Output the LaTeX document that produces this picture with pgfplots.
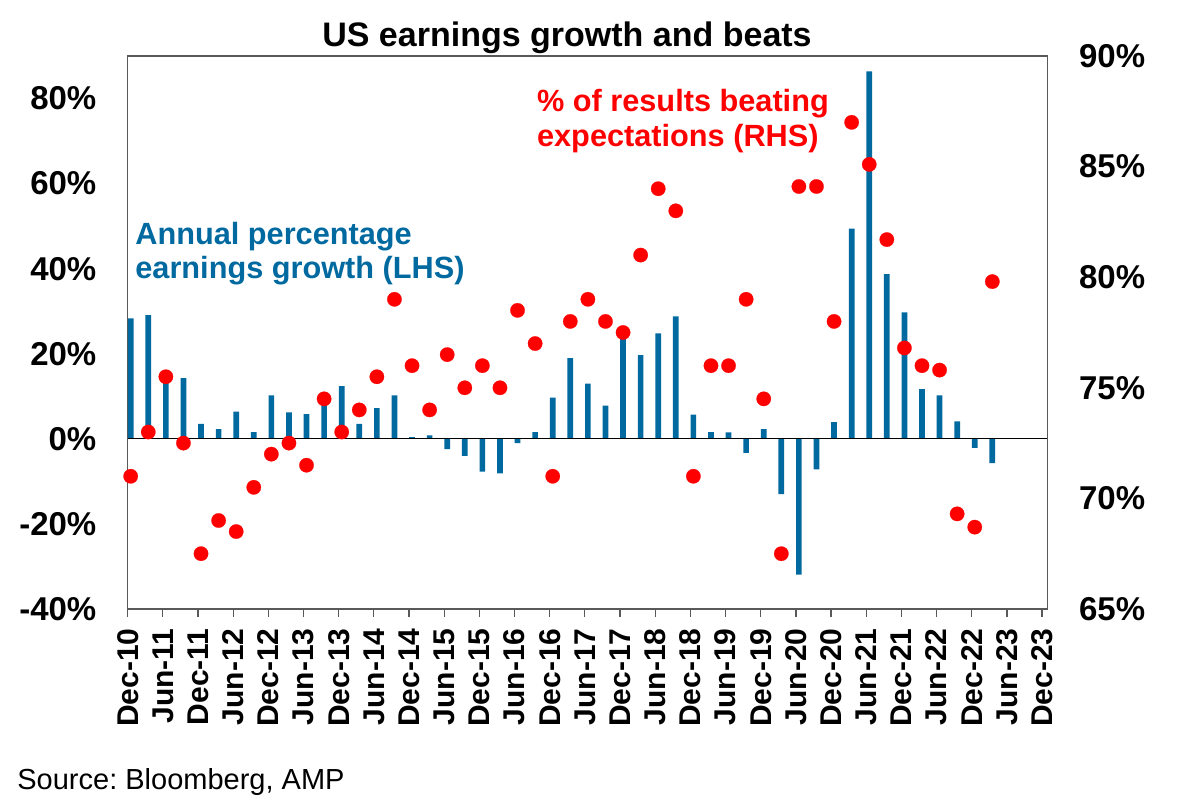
\documentclass[border=0pt]{standalone}
\usepackage{pgfplots}
\pgfplotsset{compat=1.18}
\usepackage{pgfplotstable}
\usepackage{fontspec}
\setmainfont{Liberation Sans}
\definecolor{ampblue}{RGB}{0,105,160}
\definecolor{axgray}{RGB}{89,89,89}

\pgfplotstableread{
q g b
0 28.3 71.0
1 29.1 73.0
2 14.5 75.5
3 14.3 72.5
4 3.5 67.5
5 2.3 69.0
6 6.4 68.5
7 1.6 70.5
8 10.2 72.0
9 6.2 72.5
10 5.8 71.5
11 9.0 74.5
12 12.4 73.0
13 3.5 74.0
14 7.2 75.5
15 10.2 79.0
16 0.4 76.0
17 0.8 74.0
18 -2.4 76.5
19 -4.0 75.0
20 -7.7 76.0
21 -8.1 75.0
22 -1.0 78.5
23 1.6 77.0
24 9.7 71.0
25 19.0 78.0
26 13.0 79.0
27 7.8 78.0
28 24.0 77.5
29 19.7 81.0
30 24.8 84.0
31 28.8 83.0
32 5.7 71.0
33 1.6 76.0
34 1.5 76.0
35 -3.3 79.0
36 2.3 74.5
37 -13.0 67.5
38 -31.9 84.1
39 -7.2 84.1
40 3.9 78.0
41 49.4 87.0
42 86.4 85.1
43 38.7 81.7
44 29.7 76.8
45 11.7 76.0
46 10.2 75.8
47 4.1 69.3
48 -2.1 68.7
49 -5.7 79.8
}\data

\begin{document}
\begin{tikzpicture}
\begin{axis}[
  at={(63.85pt,101.5pt)}, anchor=south west,
  scale only axis, width=460pt, height=276.5pt,
  xmin=0, xmax=52.32, ymin=-40, ymax=90,
  xtick={0,2,...,52},
  xticklabels={Dec-10,Jun-11,Dec-11,Jun-12,Dec-12,Jun-13,Dec-13,Jun-14,Dec-14,Jun-15,Dec-15,Jun-16,Dec-16,Jun-17,Dec-17,Jun-18,Dec-18,Jun-19,Dec-19,Jun-20,Dec-20,Jun-21,Dec-21,Jun-22,Dec-22,Jun-23,Dec-23},
  ytick={-40,-20,0,20,40,60,80},
  yticklabels={-40\%,-20\%,0\%,20\%,40\%,60\%,80\%},
  tick align=outside, major tick length=4pt,
  xtick pos=left, ytick pos=left,
  ytick style={draw=none},
  xtick style={axgray, line width=0.6pt},
  axis line style={axgray, line width=0.6pt},
  xticklabel style={rotate=90, anchor=east, inner sep=0pt, font=\fontsize{15}{15}\selectfont\bfseries},
  yticklabel style={anchor=east, inner sep=0pt, font=\fontsize{16.5}{16.5}\selectfont\bfseries},
  yticklabel shift=11.5pt, xticklabel shift=5.5pt,
]
\addplot[ybar, bar width=2.85pt, fill=ampblue, draw=none] table[x expr=\thisrow{q}+0.17, y=g]{\data};
\addplot[black, line width=0.6pt] coordinates {(0,0) (52.32,0)};
\end{axis}
\begin{axis}[
  at={(63.85pt,101.5pt)}, anchor=south west,
  scale only axis, width=460pt, height=276.5pt,
  xmin=0, xmax=52.32, ymin=65, ymax=90,
  hide x axis, axis y line*=right,
  ytick={65,70,75,80,85,90},
  yticklabels={65\%,70\%,75\%,80\%,85\%,90\%},
  tick align=outside, major tick length=4pt,
  ytick style={draw=none},
  axis line style={axgray, line width=0.6pt},
  yticklabel style={anchor=west, inner sep=0pt, font=\fontsize{16.5}{16.5}\selectfont\bfseries},
  yticklabel shift=11.5pt,
]
\addplot[red, only marks, mark=*, mark size=3.6pt, mark options={fill=red, draw=red, line width=0.1pt}] table[x expr=\thisrow{q}+0.17, y=b]{\data};
\end{axis}
\node[anchor=base, font=\fontsize{17}{17}\selectfont\bfseries] at (283.5pt,382.5pt) {US earnings growth and beats};
\node[anchor=base west, inner sep=0pt, text=ampblue, font=\fontsize{15.35}{15.35}\selectfont\bfseries] at (67.5pt,283.5pt) {Annual percentage};
\node[anchor=base west, inner sep=0pt, text=ampblue, font=\fontsize{15.35}{15.35}\selectfont\bfseries] at (67.5pt,266.5pt) {earnings growth (LHS)};
\node[anchor=base west, inner sep=0pt, text=red, font=\fontsize{15.35}{15.35}\selectfont\bfseries] at (268.35pt,350pt) {\% of results beating};
\node[anchor=base west, inner sep=0pt, text=red, font=\fontsize{15.35}{15.35}\selectfont\bfseries] at (268.35pt,332.5pt) {expectations (RHS)};
\node[anchor=base west, inner sep=0pt, font=\fontsize{14.5}{14.5}\selectfont] at (8.5pt,11pt) {\frenchspacing Source: Bloomberg, AMP};
\pgfresetboundingbox
\useasboundingbox (0,0) rectangle (589pt,406pt);
\end{tikzpicture}
\end{document}
